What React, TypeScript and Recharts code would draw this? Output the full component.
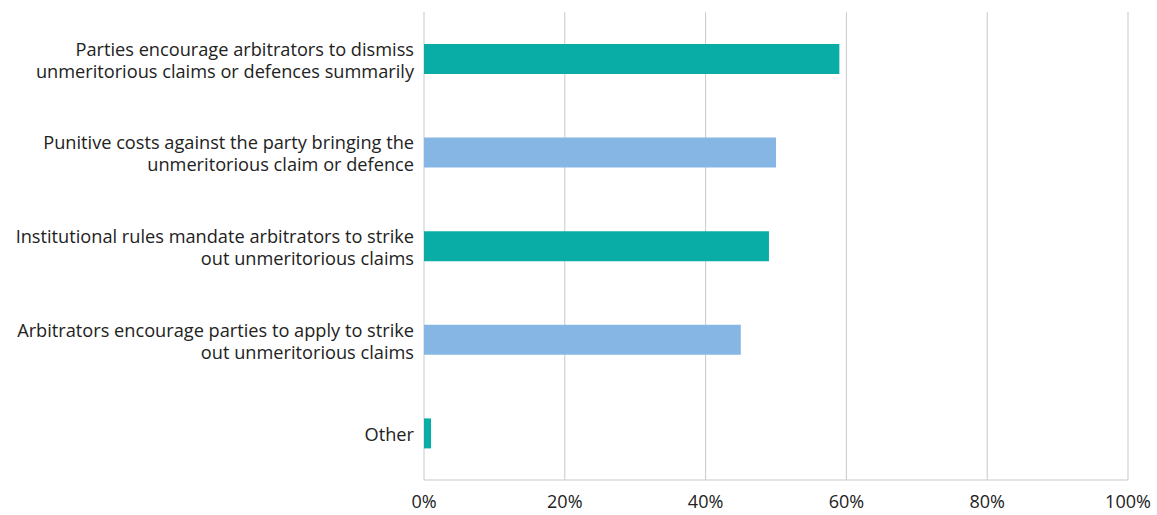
import { Bar, BarChart, CartesianGrid, Cell, XAxis, YAxis } from 'recharts';

const categories = [
  'Parties encourage arbitrators to dismiss\nunmeritorious claims or defences summarily',
  'Punitive costs against the party bringing the\nunmeritorious claim or defence',
  'Institutional rules mandate arbitrators to strike\nout unmeritorious claims',
  'Arbitrators encourage parties to apply to strike\nout unmeritorious claims',
  'Other',
];
const shares = [59, 50, 49, 45, 1];
const barColors = ['#0aaca6', '#86b7e4', '#0aaca6', '#86b7e4', '#0aaca6'];
const xTicks = [0, 20, 40, 60, 80, 100];

const FONT = '"Open Sans", sans-serif';

interface Row {
  name: string;
  value: number;
}

const rows: Row[] = categories.map((name, i) => ({ name, value: shares[i] }));

interface TickProps {
  x?: number;
  y?: number;
  payload?: { value: string };
}

function CategoryTick({ x = 0, y = 0, payload }: TickProps) {
  const lines = (payload?.value ?? '').split('\n');
  const lineH = 22;
  const start = y - ((lines.length - 1) * lineH) / 2 + 1;
  return (
    <text
      x={x}
      y={start}
      textAnchor="end"
      dominantBaseline="central"
      fill="#222"
      fontSize={18.2}
      fontFamily={FONT}
    >
      {lines.map((l, i) => (
        <tspan key={i} x={x} y={start + i * lineH}>
          {l}
        </tspan>
      ))}
    </text>
  );
}

export default function App() {
  return (
    <div style={{ position: 'absolute', left: 0, top: 0, background: '#fff' }}>
      <BarChart
        width={1157}
        height={515}
        data={rows}
        layout="vertical"
        margin={{ top: 12, right: 29, left: 0, bottom: 0 }}
      >
        <CartesianGrid stroke="#c9c9c9" vertical horizontal={false} />
        <XAxis
          type="number"
          domain={[0, 100]}
          ticks={xTicks}
          tickFormatter={(v: number) => `${v}%`}
          axisLine={{ stroke: '#c9c9c9' }}
          tickLine={false}
          height={35}
          tickMargin={9}
          tick={{ fill: '#222', fontSize: 18, fontFamily: FONT }}
        />
        <YAxis
          type="category"
          dataKey="name"
          width={424}
          axisLine={false}
          tickLine={false}
          tickMargin={4}
          tick={<CategoryTick />}
        />
        <Bar dataKey="value" barSize={30} isAnimationActive={false}>
          {rows.map((_, i) => (
            <Cell key={i} fill={barColors[i]} />
          ))}
        </Bar>
      </BarChart>
    </div>
  );
}
